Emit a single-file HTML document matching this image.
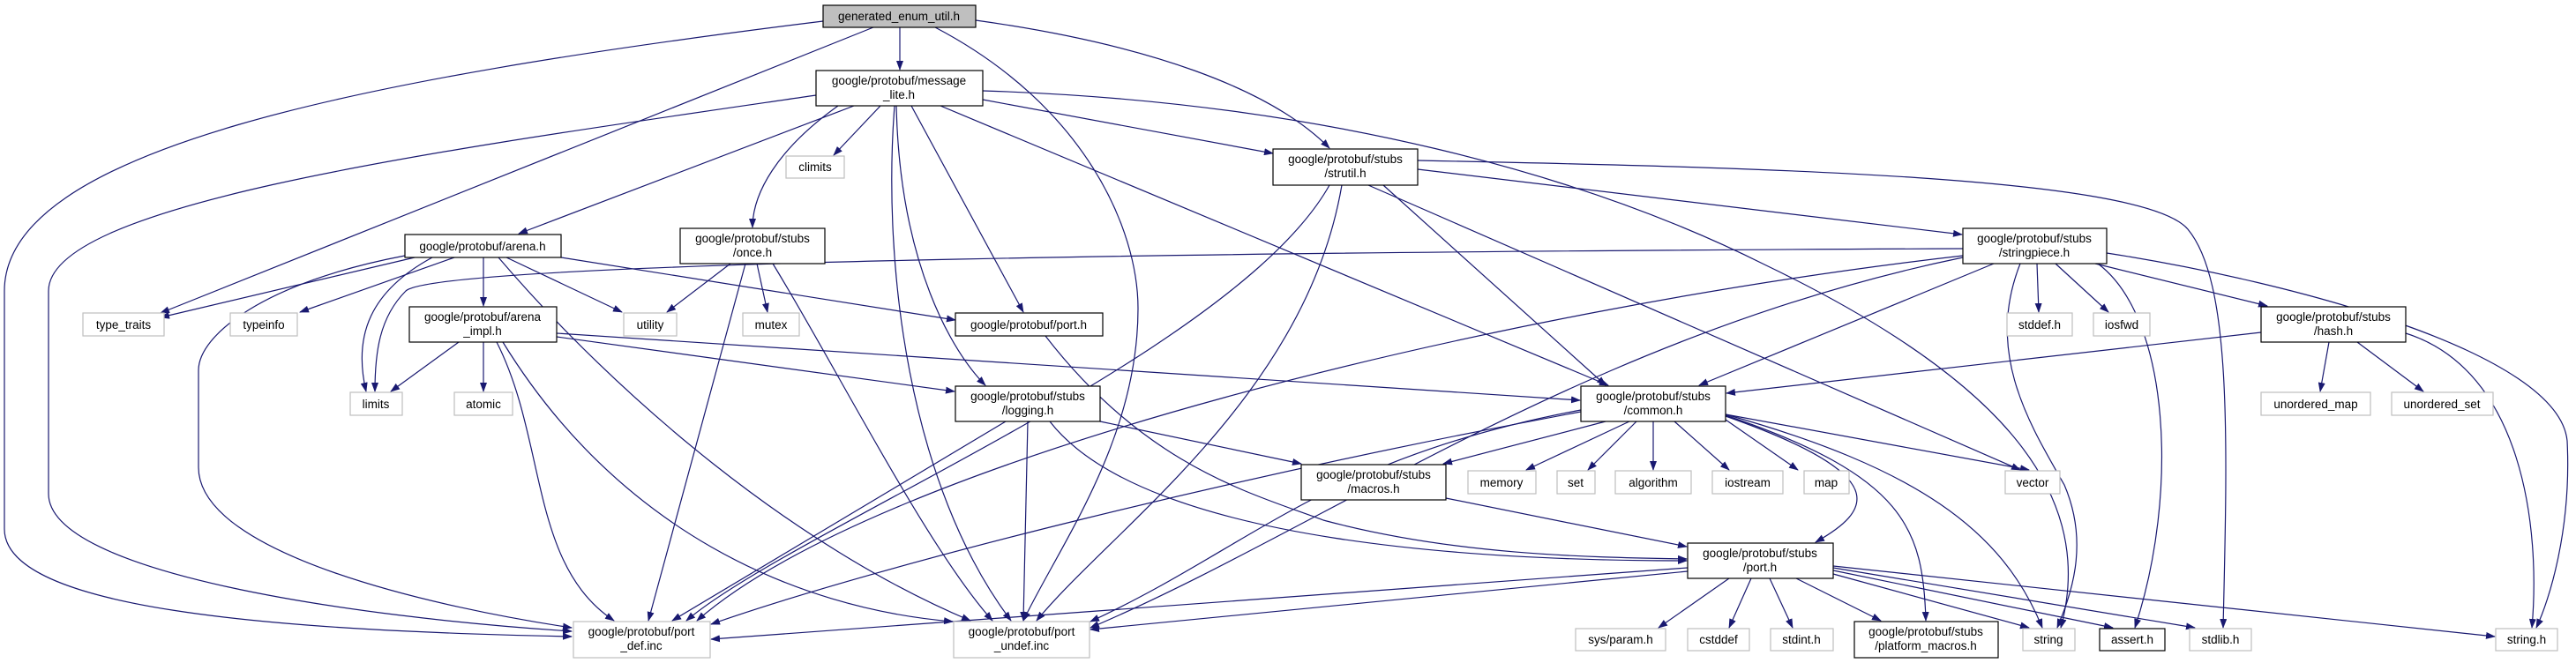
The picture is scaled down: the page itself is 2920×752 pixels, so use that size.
<!DOCTYPE html>
<html><head><meta charset="utf-8"><style>
html,body{margin:0;padding:0;background:#fff;}
svg{display:block}
text{font-family:"Liberation Sans",sans-serif;font-size:13.5px;fill:#000;text-anchor:middle}
.e{fill:none;stroke:#191970;stroke-width:1.2}
.n{fill:#fff;stroke:#000;stroke-width:1.2}
.x{fill:#fff;stroke:#bfbfbf;stroke-width:1.2}
</style></head><body>
<svg width="2920" height="752" viewBox="0 0 2920 752" xmlns="http://www.w3.org/2000/svg">
<defs><marker id="a" markerWidth="11" markerHeight="8" refX="10" refY="4" orient="auto" markerUnits="userSpaceOnUse"><path d="M0,0 L11,4 L0,8 z" fill="#191970"/></marker></defs>
<g marker-end="url(#a)">
<!-- generated -->
<path class="e" d="M933,24 C400,90 5,170 5,330 L5,600 C5,690 300,715 648,722"/>
<path class="e" d="M990,31 L182,355"/>
<path class="e" d="M1020,31 L1020,79"/>
<path class="e" d="M1060,31 C1230,120 1290,260 1290,350 C1290,500 1200,620 1160,704"/>
<path class="e" d="M1106,23 C1300,50 1440,100 1507,168"/>
<!-- message_lite -->
<path class="e" d="M925,108 C500,170 55,230 55,330 L55,560 C55,650 400,700 648,716"/>
<path class="e" d="M968,120 L588,265"/>
<path class="e" d="M950,120 C880,170 853,220 853,258"/>
<path class="e" d="M998,120 L945,176"/>
<path class="e" d="M1014,120 C1000,300 1030,550 1146,704"/>
<path class="e" d="M1016,120 C1020,300 1080,400 1117,437"/>
<path class="e" d="M1033,120 L1160,354"/>
<path class="e" d="M1066,120 L1823,437"/>
<path class="e" d="M1114,113 L1443,174"/>
<path class="e" d="M1114,103 C1500,115 1800,200 2000,300 C2250,420 2380,550 2336,712"/>
<!-- strutil -->
<path class="e" d="M1607,192 L2224,266"/>
<path class="e" d="M1607,182 C2000,190 2430,200 2480,260 C2530,320 2525,500 2520,712"/>
<path class="e" d="M1568,210 L1820,437"/>
<path class="e" d="M1551,210 L2290,533"/>
<path class="e" d="M1507,210 C1400,400 900,600 778,704"/>
<path class="e" d="M1521,210 C1480,450 1260,600 1175,704"/>
<!-- arena -->
<path class="e" d="M470,292 L182,360"/>
<path class="e" d="M490,292 C420,330 400,380 415,444"/>
<path class="e" d="M459,290 C300,320 225,380 225,420 L225,530 C225,630 500,690 648,712"/>
<path class="e" d="M515,292 L340,354"/>
<path class="e" d="M548,292 L548,347"/>
<path class="e" d="M574,292 L705,354"/>
<path class="e" d="M565,292 C700,450 900,620 1100,704"/>
<path class="e" d="M636,292 L1083,363"/>
<!-- once -->
<path class="e" d="M828,299 L756,354"/>
<path class="e" d="M858,299 L870,354"/>
<path class="e" d="M845,299 L735,704"/>
<path class="e" d="M876,299 C950,420 1050,620 1125,704"/>
<!-- arena_impl -->
<path class="e" d="M520,388 L443,444"/>
<path class="e" d="M548,388 L548,444"/>
<path class="e" d="M563,388 C620,500 600,640 696,704"/>
<path class="e" d="M570,388 C700,600 900,690 1080,705"/>
<path class="e" d="M631,382 L1082,444"/>
<path class="e" d="M631,378 L1791,454"/>
<!-- stringpiece -->
<path class="e" d="M2225,282 C1500,285 500,295 460,330 C430,360 425,400 425,444"/>
<path class="e" d="M2260,299 L1926,437"/>
<path class="e" d="M2225,290 C1700,350 1000,520 790,704"/>
<path class="e" d="M2225,292 C1800,380 1500,600 1236,712"/>
<path class="e" d="M2309,299 L2311,354"/>
<path class="e" d="M2330,299 L2390,354"/>
<path class="e" d="M2375,299 L2570,347"/>
<path class="e" d="M2290,299 C2250,400 2300,480 2340,550 C2370,620 2345,680 2332,712"/>
<path class="e" d="M2378,299 C2460,360 2470,560 2420,712"/>
<path class="e" d="M2388,287 C2600,320 2900,400 2910,500 C2915,600 2890,680 2875,712"/>
<!-- hash -->
<path class="e" d="M2563,377 L1957,446"/>
<path class="e" d="M2640,388 L2630,444"/>
<path class="e" d="M2672,388 L2747,444"/>
<path class="e" d="M2727,378 C2860,420 2880,600 2870,712"/>
<!-- common -->
<path class="e" d="M1820,478 L1636,526"/>
<path class="e" d="M1847,478 L1730,533"/>
<path class="e" d="M1855,478 L1800,533"/>
<path class="e" d="M1874,478 L1874,533"/>
<path class="e" d="M1898,478 L1960,533"/>
<path class="e" d="M1956,476 L2038,533"/>
<path class="e" d="M1956,470 L2300,533"/>
<path class="e" d="M1956,472 C2150,540 2120,580 2058,615"/>
<path class="e" d="M1956,471 C2160,540 2180,600 2183,704"/>
<path class="e" d="M1956,470 C2170,530 2270,600 2315,712"/>
<path class="e" d="M1792,467 C1400,540 1000,640 806,708"/>
<path class="e" d="M1792,465 C1500,520 1420,620 1236,705"/>
<!-- logging -->
<path class="e" d="M1247,478 L1475,526"/>
<path class="e" d="M1165,478 L1160,704"/>
<path class="e" d="M1140,478 L762,704"/>
<path class="e" d="M1190,478 C1300,620 1700,636 1912,636"/>
<!-- port.h -->
<path class="e" d="M1185,381 C1300,530 1420,560 1500,590 C1650,630 1800,632 1912,634"/>
<!-- macros -->
<path class="e" d="M1639,565 L1912,620"/>
<!-- stubs/port.h -->
<path class="e" d="M1913,644 L806,725"/>
<path class="e" d="M1913,648 L1236,714"/>
<path class="e" d="M1960,656 L1880,712"/>
<path class="e" d="M1985,656 L1960,712"/>
<path class="e" d="M2006,656 L2032,712"/>
<path class="e" d="M2036,656 L2132,704"/>
<path class="e" d="M2078,651 L2300,712"/>
<path class="e" d="M2078,647 L2395,712"/>
<path class="e" d="M2078,644 L2488,712"/>
<path class="e" d="M2078,642 L2828,722"/>
</g>
<!-- nodes -->
<rect x="933" y="6" width="173" height="25" fill="#bfbfbf" stroke="#000" stroke-width="1.2"/><text x="1019" y="23">generated_enum_util.h</text>
<rect class="n" x="925" y="80" width="189" height="40"/><text x="1019" y="96">google/protobuf/message</text><text x="1019" y="112">_lite.h</text>
<rect class="x" x="891" y="177" width="66" height="25"/><text x="924" y="194">climits</text>
<rect class="n" x="459" y="266" width="177" height="26"/><text x="547" y="284">google/protobuf/arena.h</text>
<rect class="n" x="771" y="259" width="164" height="40"/><text x="853" y="275">google/protobuf/stubs</text><text x="853" y="291">/once.h</text>
<rect class="x" x="94" y="355" width="92" height="26"/><text x="140" y="373">type_traits</text>
<rect class="x" x="261" y="355" width="76" height="26"/><text x="299" y="373">typeinfo</text>
<rect class="n" x="464" y="348" width="167" height="40"/><text x="547" y="364">google/protobuf/arena</text><text x="547" y="380">_impl.h</text>
<rect class="x" x="707" y="355" width="60" height="26"/><text x="737" y="373">utility</text>
<rect class="x" x="842" y="355" width="64" height="26"/><text x="874" y="373">mutex</text>
<rect class="x" x="397" y="445" width="59" height="26"/><text x="426" y="463">limits</text>
<rect class="x" x="515" y="445" width="66" height="26"/><text x="548" y="463">atomic</text>
<rect class="x" x="650" y="705" width="155" height="41"/><text x="727" y="721">google/protobuf/port</text><text x="727" y="737">_def.inc</text>
<rect class="n" x="1443" y="169" width="164" height="41"/><text x="1525" y="185">google/protobuf/stubs</text><text x="1525" y="201">/strutil.h</text>
<rect class="n" x="1083" y="355" width="167" height="26"/><text x="1166" y="373">google/protobuf/port.h</text>
<rect class="n" x="1083" y="438" width="164" height="40"/><text x="1165" y="454">google/protobuf/stubs</text><text x="1165" y="470">/logging.h</text>
<rect class="n" x="1792" y="438" width="164" height="40"/><text x="1874" y="454">google/protobuf/stubs</text><text x="1874" y="470">/common.h</text>
<rect class="n" x="1475" y="527" width="164" height="40"/><text x="1557" y="543">google/protobuf/stubs</text><text x="1557" y="559">/macros.h</text>
<rect class="x" x="1664" y="534" width="77" height="26"/><text x="1702" y="552">memory</text>
<rect class="x" x="1765" y="534" width="43" height="26"/><text x="1786" y="552">set</text>
<rect class="x" x="1831" y="534" width="86" height="26"/><text x="1874" y="552">algorithm</text>
<rect class="x" x="1941" y="534" width="80" height="26"/><text x="1981" y="552">iostream</text>
<rect class="x" x="2045" y="534" width="51" height="26"/><text x="2070" y="552">map</text>
<rect class="x" x="2273" y="534" width="62" height="26"/><text x="2304" y="552">vector</text>
<rect class="x" x="1081" y="705" width="154" height="41"/><text x="1158" y="721">google/protobuf/port</text><text x="1158" y="737">_undef.inc</text>
<rect class="n" x="1913" y="616" width="165" height="40"/><text x="1995" y="632">google/protobuf/stubs</text><text x="1995" y="648">/port.h</text>
<rect class="x" x="1786" y="713" width="102" height="25"/><text x="1837" y="730">sys/param.h</text>
<rect class="x" x="1913" y="713" width="70" height="25"/><text x="1948" y="730">cstddef</text>
<rect class="x" x="2007" y="713" width="71" height="25"/><text x="2042" y="730">stdint.h</text>
<rect class="n" x="2102" y="705" width="163" height="41"/><text x="2183" y="721">google/protobuf/stubs</text><text x="2183" y="737">/platform_macros.h</text>
<rect class="x" x="2293" y="713" width="59" height="25"/><text x="2322" y="730">string</text>
<rect class="n" x="2380" y="713" width="74" height="25"/><text x="2417" y="730">assert.h</text>
<rect class="x" x="2482" y="713" width="70" height="25"/><text x="2517" y="730">stdlib.h</text>
<rect class="x" x="2829" y="713" width="70" height="25"/><text x="2864" y="730">string.h</text>
<rect class="n" x="2225" y="259" width="163" height="40"/><text x="2306" y="275">google/protobuf/stubs</text><text x="2306" y="291">/stringpiece.h</text>
<rect class="x" x="2275" y="355" width="74" height="26"/><text x="2312" y="373">stddef.h</text>
<rect class="x" x="2373" y="355" width="64" height="26"/><text x="2405" y="373">iosfwd</text>
<rect class="n" x="2563" y="348" width="164" height="40"/><text x="2645" y="364">google/protobuf/stubs</text><text x="2645" y="380">/hash.h</text>
<rect class="x" x="2563" y="445" width="124" height="26"/><text x="2625" y="463">unordered_map</text>
<rect class="x" x="2711" y="445" width="115" height="26"/><text x="2768" y="463">unordered_set</text>
</svg>
</body></html>
